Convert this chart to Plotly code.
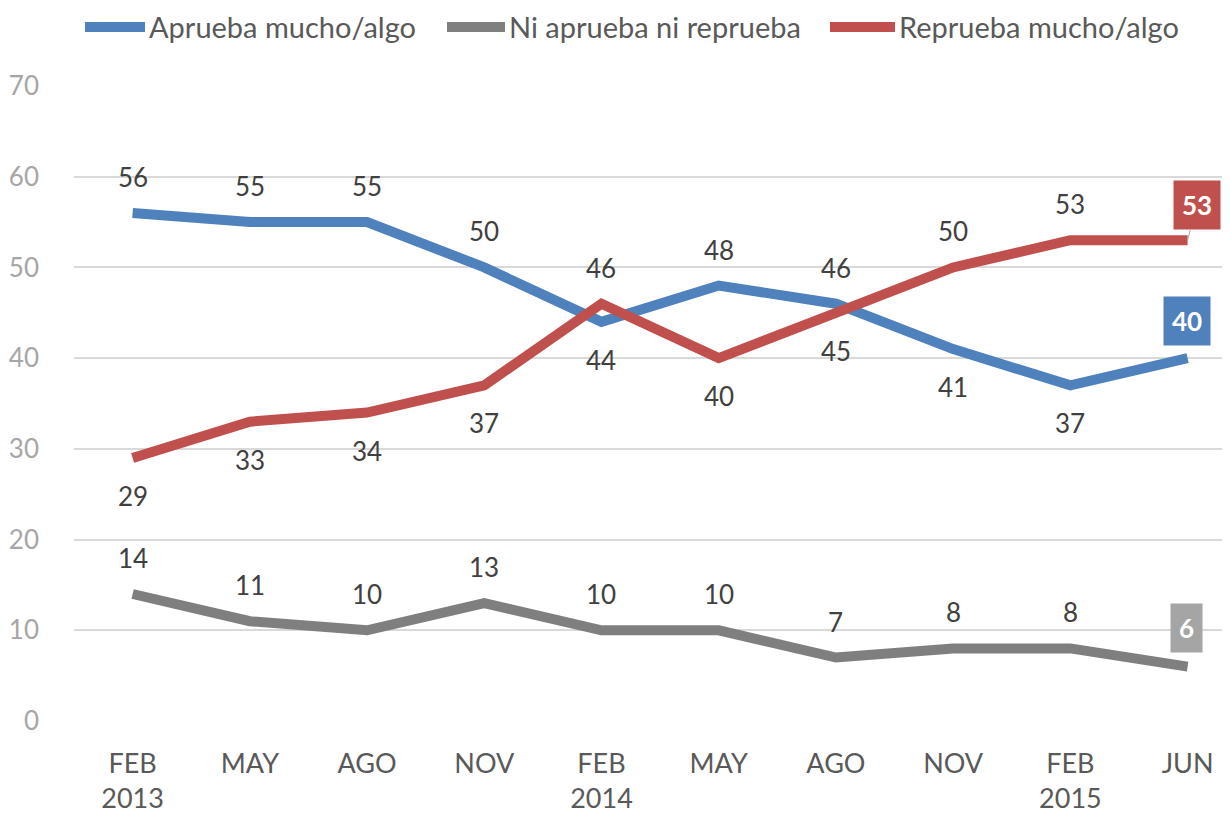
import plotly.graph_objects as go

categories = ["FEB<br>2013", "MAY", "AGO", "NOV", "FEB<br>2014", "MAY", "AGO", "NOV", "FEB<br>2015", "JUN"]
aprueba = [56, 55, 55, 50, 44, 48, 46, 41, 37, 40]
ni = [14, 11, 10, 13, 10, 10, 7, 8, 8, 6]
reprueba = [29, 33, 34, 37, 46, 40, 45, 50, 53, 53]
series_names = ["Aprueba mucho/algo", "Ni aprueba ni reprueba", "Reprueba mucho/algo"]

# label position: 1 above, -1 below
aprueba_pos = [1, 1, 1, 1, -1, 1, 1, -1, -1, 0]
reprueba_pos = [-1, -1, -1, -1, 1, -1, -1, 1, 1, 0]
ni_pos = [1, 1, 1, 1, 1, 1, 1, 1, 1, 0]

BLUE = "#4F81BD"
GRAY = "#7F7F7F"
RED = "#C0504D"
FONT = "Lato"
colors = [BLUE, GRAY, RED]

x = list(range(len(categories)))
fig = go.Figure()
for name, vals, col in zip(series_names, [aprueba, ni, reprueba], colors):
    fig.add_trace(go.Scatter(x=x, y=vals, mode="lines", name=name, showlegend=False,
                             line=dict(color=col, width=10)))

ann = []
for vals, pos in [(aprueba, aprueba_pos), (reprueba, reprueba_pos), (ni, ni_pos)]:
    for i, (v, p) in enumerate(zip(vals, pos)):
        if p == 0:
            continue
        ann.append(dict(x=i, y=v, xref="x", yref="y", text=str(v), showarrow=False,
                        yshift=36 if p > 0 else -38,
                        font=dict(family=FONT, size=26, color="#404040")))

last = len(categories) - 1
ann.append(dict(x=last, y=reprueba[last], xref="x", yref="y", text="<b>%d</b>" % reprueba[last],
                showarrow=True, ax=9, ay=-35, arrowhead=0, arrowwidth=1, arrowcolor="#A6A6A6",
                bgcolor=RED, borderpad=8, font=dict(family=FONT, size=26, color="white")))
ann.append(dict(x=last, y=aprueba[last], xref="x", yref="y", text="<b>%d</b>" % aprueba[last],
                showarrow=False, yshift=37, xshift=-1,
                bgcolor=BLUE, borderpad=8, font=dict(family=FONT, size=26, color="white")))
ann.append(dict(x=last, y=ni[last], xref="x", yref="y", text="<b>%d</b>" % ni[last],
                showarrow=False, yshift=39, xshift=-1,
                bgcolor="#A5A5A5", borderpad=8, font=dict(family=FONT, size=26, color="white")))

# manual legend (page offsets: plot area spans x 74..1238, y 86..721)
def px_x(p):
    return (p - 74) / 1164.0

def px_y(p):
    return (721 - p) / 635.0

shapes = []
leg_sym = [(85, 145), (447, 505), (830, 895)]
for (x0, x1), col, name in zip(leg_sym, colors, series_names):
    shapes.append(dict(type="line", xref="paper", yref="paper", x0=px_x(x0), x1=px_x(x1),
                       y0=px_y(27), y1=px_y(27), line=dict(color=col, width=10)))
    ann.append(dict(xref="paper", yref="paper", x=px_x(x1 + 2), y=px_y(27), text=name,
                    xanchor="left", yanchor="middle", showarrow=False,
                    font=dict(family=FONT, size=29, color="#595959")))

fig.update_layout(
    width=1230, height=815,
    margin=dict(l=66, r=0, t=78, b=102, autoexpand=False),
    plot_bgcolor="white", paper_bgcolor="white",
    font=dict(family=FONT, size=26, color="#595959"),
    showlegend=False,
    annotations=ann,
    shapes=shapes,
    xaxis=dict(tickmode="array", tickvals=x, ticktext=categories, range=[-0.5, 9.43],
               showgrid=False, zeroline=False, showline=False, ticks="", automargin=False,
               ticklabelstandoff=24, tickfont=dict(size=27, color="#595959")),
    yaxis=dict(range=[0, 70], dtick=10, showgrid=True, gridcolor="#D9D9D9", gridwidth=2,
               zeroline=False, showline=False, ticks="", automargin=False, ticklabelstandoff=34,
               tickfont=dict(size=26, color="#A6A6A6")),
)
fig.write_html("out.html")
